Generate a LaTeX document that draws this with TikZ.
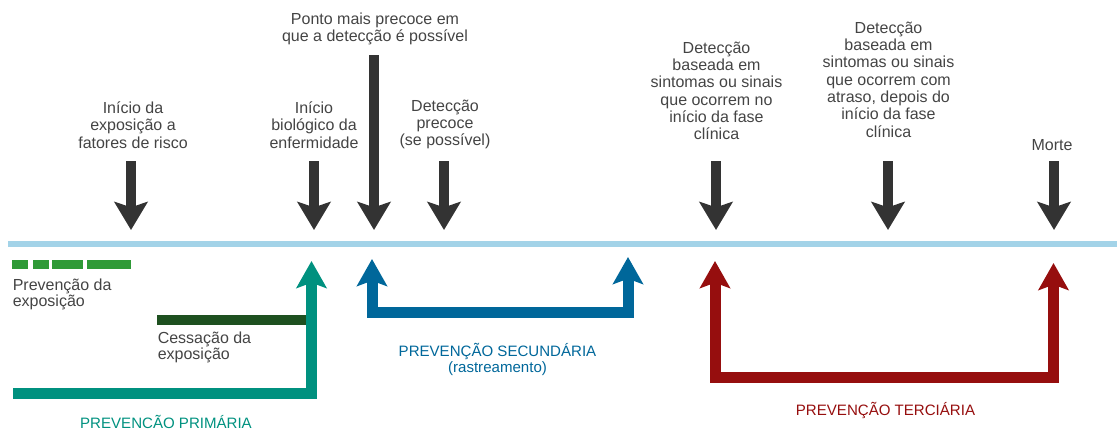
\documentclass[tikz,border=0pt]{standalone}
\usepackage{fontspec}
\setmainfont{Liberation Sans}
\usetikzlibrary{arrows.meta}

\definecolor{grigio}{HTML}{444444}
\definecolor{freccia}{HTML}{333333}
\definecolor{celeste}{HTML}{A3D3E8}
\definecolor{verdechiaro}{HTML}{2F9A37}
\definecolor{verdescuro}{HTML}{1E5020}
\definecolor{turchese}{HTML}{00917F}
\definecolor{blu}{HTML}{00679A}
\definecolor{rosso}{HTML}{960E0E}

\tikzset{
  puntag/.tip={Stealth[length=21pt,width=24.75pt,inset=4pt]},
  puntac/.tip={Stealth[length=20.25pt,width=22.5pt,inset=4pt]}
}

\begin{document}
\begin{tikzpicture}[x=0.75pt,y=-0.75pt,
    testo/.style={text=grigio,font=\fontsize{12pt}{13pt}\selectfont,align=center,inner sep=0pt,anchor=north},
    nota/.style={text=grigio,font=\fontsize{12pt}{12pt}\selectfont,align=left,inner sep=0pt,anchor=north west},
    titolo/.style={font=\fontsize{11.3pt}{12pt}\selectfont,align=center,inner sep=0pt},
    giu/.style={draw=freccia,line width=7.5pt,-puntag},
    percorso/.style={line width=8.25pt,line join=miter}]
    \useasboundingbox (0,0) rectangle (1117,429);

    %linea del tempo con le frecce degli eventi
    \coordinate (l0) at (8,244);
    \coordinate (l1) at (1117,244);
    \draw[celeste,line width=4.5pt] (l0) -- (l1);

    \node[testo] (1) at (133,101.3) {Início da\\exposição a\\fatores de risco};
    \node[testo] (2) at (314,101.3) {Início\\biológico da\\enfermidade};
    \node[testo] (3) at (375,12.3) {Ponto mais precoce em\\que a detecção é possível};
    \node[testo] (4) at (445,99.3) {Detecção\\precoce\\(se possível)};
    \node[testo] (5) at (716.5,41.3) {Detecção\\baseada em\\sintomas ou sinais\\que ocorrem no\\início da fase\\clínica};
    \node[testo] (6) at (888.5,21.3) {Detecção\\baseada em\\sintomas ou sinais\\que ocorrem com\\atraso, depois do\\início da fase\\clínica};
    \node[testo] (7) at (1052,139.5) {Morte};

    \foreach \n/\x/\y in {1/131/161,2/314/161,3/374/55,4/444/161,5/716/161,6/888/161,7/1054/161}{
        \coordinate (s\n) at (\x,\y);
        \coordinate (f\n) at (\x,230);
        \draw[giu] (s\n) -- (f\n);
    }

    %prevenzione primaria
    \foreach \a/\b in {12/28,33/49,52/83,87/131}
        \fill[verdechiaro] (\a,259.5) rectangle (\b,268.5);
    \node[nota] (8) at (12.5,278.5) {Prevenção da\\exposição};
    \fill[verdescuro] (157,315) rectangle (307,325);
    \node[nota] (9) at (157.5,331.5) {Cessação da\\exposição};

    \coordinate (p0) at (13,393.5);
    \coordinate (p1) at (311.5,261);
    \draw[percorso,turchese,-puntac] (p0) -| (p1);
    \node[titolo,text=turchese,anchor=base] (10) at (166,428) {PREVENCÃO PRIMÁRIA};

    %prevenzione secondaria
    \coordinate (b0) at (372,259);
    \coordinate (b1) at (372,312.5);
    \coordinate (b2) at (628,257);
    \draw[percorso,blu,puntac-puntac] (b0) -- (b1) -| (b2);
    \node[titolo,text=blu,anchor=north] (11) at (497.5,342.5) {PREVENÇÃO SECUNDÁRIA\\(rastreamento)};

    %prevenzione terziaria
    \coordinate (r0) at (715,261);
    \coordinate (r1) at (715,377);
    \coordinate (r2) at (1053.5,263);
    \draw[percorso,rosso,puntac-puntac] (r0) -- (r1) -| (r2);
    \node[titolo,text=rosso,anchor=base] (12) at (885.5,415) {PREVENÇÃO TERCIÁRIA};

\end{tikzpicture}
\end{document}
